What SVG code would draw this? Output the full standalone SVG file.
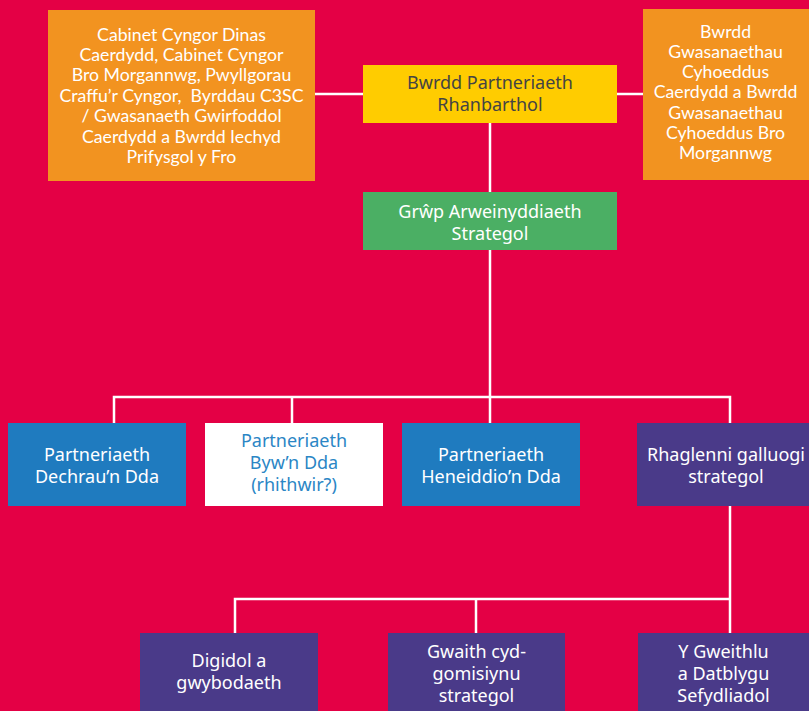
<svg xmlns="http://www.w3.org/2000/svg" width="809" height="711" viewBox="0 0 809 711">
<style>
.bg{fill:#E40045}
.or{fill:#F29320}
.ye{fill:#FFCC00}
.gr{fill:#4BAF64}
.bl{fill:#1F7BBF}
.wh{fill:#FFFFFF}
.pu{fill:#4A3A89}
.lt{font-family:Lato,"Liberation Sans",sans-serif;font-size:17.7px;fill:#FFFFFF;text-anchor:middle}
.t{font-family:"Noto Sans","Open Sans",sans-serif;font-size:18px;fill:#FFFFFF;text-anchor:middle}
.dk{fill:#444444}
.blt{fill:#2B86C5}
.cn{stroke:#FFFFFF;stroke-width:2.5;fill:none}
</style>
<rect class="bg" x="0" y="0" width="809" height="711"/>
<g id="connectors">
<line class="cn" x1="315" y1="94" x2="363" y2="94"/>
<line class="cn" x1="617" y1="94" x2="643" y2="94"/>
<line class="cn" x1="490" y1="123" x2="490" y2="192"/>
<line class="cn" x1="490" y1="250" x2="490" y2="423"/>
<polyline class="cn" points="114,423 114,397 730,397 730,423"/>
<line class="cn" x1="292" y1="397" x2="292" y2="423"/>
<line class="cn" x1="730" y1="506" x2="730" y2="633"/>
<polyline class="cn" points="235,633 235,599 730,599"/>
<line class="cn" x1="476" y1="599" x2="476" y2="633"/>
</g>
<g id="cabinet">
<rect class="or" x="48" y="10" width="267" height="171"/>
<text class="lt" x="181.5" y="40.5">Cabinet Cyngor Dinas</text>
<text class="lt" x="181.5" y="60.9">Caerdydd, Cabinet Cyngor</text>
<text class="lt" x="181.5" y="81.3">Bro Morgannwg, Pwyllgorau</text>
<text class="lt" x="181.5" y="101.7">Craffu’r Cyngor,&#160; Byrddau C3SC</text>
<text class="lt" x="181.5" y="122.1">/ Gwasanaeth Gwirfoddol</text>
<text class="lt" x="181.5" y="142.5">Caerdydd a Bwrdd Iechyd</text>
<text class="lt" x="181.5" y="162.9">Prifysgol y Fro</text>
</g>
<g id="bwrdd-gwasanaethau">
<rect class="or" x="643" y="9" width="166" height="171"/>
<text class="lt" x="725.5" y="37.5">Bwrdd</text>
<text class="lt" x="725.5" y="57.8">Gwasanaethau</text>
<text class="lt" x="725.5" y="78.1">Cyhoeddus</text>
<text class="lt" x="725.5" y="98.4">Caerdydd a Bwrdd</text>
<text class="lt" x="725.5" y="118.7">Gwasanaethau</text>
<text class="lt" x="725.5" y="139">Cyhoeddus Bro</text>
<text class="lt" x="725.5" y="159.3">Morgannwg</text>
</g>
<g id="partneriaeth-rhanbarthol">
<rect class="ye" x="363" y="65" width="254" height="58"/>
<text class="t dk" x="490" y="88.5">Bwrdd Partneriaeth</text>
<text class="t dk" x="490" y="110.5">Rhanbarthol</text>
</g>
<g id="arweinyddiaeth">
<rect class="gr" x="363" y="192" width="254" height="58"/>
<text class="t" x="490" y="217.5">Grŵp Arweinyddiaeth</text>
<text class="t" x="490" y="239.5">Strategol</text>
</g>
<g id="dechrau">
<rect class="bl" x="8" y="423" width="178" height="83"/>
<text class="t" x="97" y="460.5">Partneriaeth</text>
<text class="t" x="97" y="482.5">Dechrau’n Dda</text>
</g>
<g id="byw">
<rect class="wh" x="205" y="423" width="178" height="83"/>
<text class="t blt" x="294" y="446.5">Partneriaeth</text>
<text class="t blt" x="294" y="468.5">Byw’n Dda</text>
<text class="t blt" x="294" y="490.5">(rhithwir?)</text>
</g>
<g id="heneiddio">
<rect class="bl" x="402" y="423" width="178" height="83"/>
<text class="t" x="491" y="460.5">Partneriaeth</text>
<text class="t" x="491" y="482.5">Heneiddio’n Dda</text>
</g>
<g id="rhaglenni">
<rect class="pu" x="637" y="423" width="172" height="83"/>
<text class="t" x="726" y="460.5">Rhaglenni galluogi</text>
<text class="t" x="726" y="482.5">strategol</text>
</g>
<g id="digidol">
<rect class="pu" x="140" y="633" width="178" height="78"/>
<text class="t" x="229" y="666.5">Digidol a</text>
<text class="t" x="229" y="688.5">gwybodaeth</text>
</g>
<g id="cydgomisiynu">
<rect class="pu" x="388" y="633" width="177" height="78"/>
<text class="t" x="476.5" y="657.5">Gwaith cyd-</text>
<text class="t" x="476.5" y="679.5">gomisiynu</text>
<text class="t" x="476.5" y="701.5">strategol</text>
</g>
<g id="gweithlu">
<rect class="pu" x="638" y="633" width="171" height="78"/>
<text class="t" x="723.5" y="657.5">Y Gweithlu</text>
<text class="t" x="723.5" y="679.5">a Datblygu</text>
<text class="t" x="723.5" y="701.5">Sefydliadol</text>
</g>
</svg>
